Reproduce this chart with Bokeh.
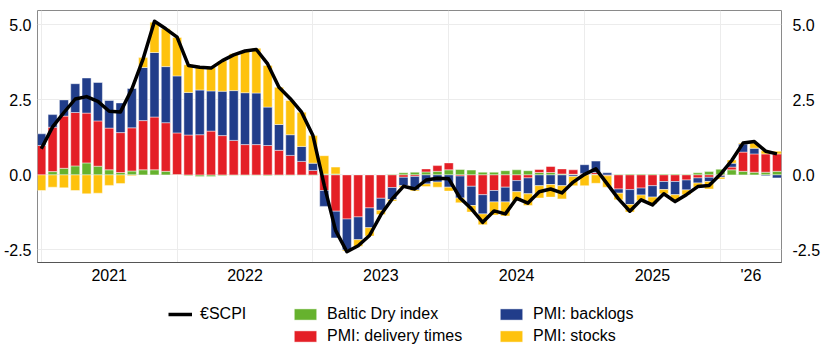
import numpy as np
from bokeh.plotting import figure
from bokeh.layouts import column
from bokeh.models import (Range1d, LinearAxis, FixedTicker, NumeralTickFormatter,
                          Legend, LegendItem, ColumnDataSource)
from bokeh.embed import file_html
from bokeh.resources import INLINE

# Monthly observations, Jan 2021 (index 0) onwards
months = list(range(66))
baltic = [0.00, 0.11, 0.22, 0.30, 0.40, 0.29, 0.17, 0.08, 0.13, 0.17, 0.17, 0.12,
          0.01, -0.03, -0.05, -0.05, -0.03, -0.02, -0.02, -0.02, -0.03, -0.02, -0.02, -0.01,
          -0.02, 0.03, 0.03, 0.00, 0.00, 0.00, 0.00, 0.02, 0.07, 0.09, 0.10, 0.12,
          0.17, 0.18, 0.16, 0.09, 0.09, 0.14, 0.17, 0.14, 0.08, 0.08, 0.03, 0.02,
          0.01, 0.02, 0.00, 0.02, 0.03, 0.03, 0.03, 0.03, 0.03, 0.02, 0.07, 0.11,
          0.19, 0.17, 0.12, 0.09, 0.09, 0.12]
delivery = [0.98, 1.48, 1.74, 1.78, 1.66, 1.51, 1.39, 1.33, 1.44, 1.64, 1.76, 1.62,
            1.39, 1.33, 1.34, 1.46, 1.31, 1.15, 1.01, 1.01, 0.98, 0.82, 0.65, 0.45,
            0.15, -0.52, -1.21, -1.47, -1.40, -1.10, -0.78, -0.42, -0.08, -0.05, 0.10, 0.19,
            0.23, -0.04, -0.38, -0.66, -0.52, -0.41, -0.19, -0.10, 0.10, 0.20, 0.17, 0.15,
            0.04, 0.06, -0.03, -0.47, -0.49, -0.44, -0.36, -0.22, -0.22, -0.17, -0.10, -0.08,
            -0.03, 0.09, 0.64, 0.61, 0.61, 0.58]
backlogs = [0.39, 0.42, 0.54, 0.96, 1.17, 1.28, 0.92, 0.99, 1.31, 1.77, 2.15, 1.87,
            1.90, 1.42, 1.49, 1.34, 1.48, 1.66, 1.73, 1.72, 1.28, 0.86, 0.69, 0.50,
            0.24, -0.53, -0.89, -1.03, -0.76, -0.66, -0.40, -0.40, -0.28, -0.45, -0.30, -0.24,
            -0.41, -0.73, -0.64, -0.64, -0.38, -0.49, -0.37, -0.53, -0.36, -0.32, -0.36, -0.05,
            0.29, 0.38, 0.07, -0.14, -0.50, -0.23, -0.38, -0.27, -0.44, -0.33, -0.17, -0.14,
            -0.05, 0.13, 0.27, 0.19, -0.03, -0.10]
stocks = [-0.52, -0.41, -0.43, -0.52, -0.63, -0.61, -0.35, -0.29, -0.03, 0.33, 1.01, 1.26,
          1.28, 0.92, 0.79, 0.79, 1.01, 1.23, 1.38, 1.49, 1.39, 1.24, 1.14, 1.14,
          0.92, 0.61, 0.23, -0.04, -0.22, -0.28, -0.14, -0.05, -0.05, -0.04, -0.09, -0.17,
          -0.13, -0.16, -0.22, -0.36, -0.44, -0.47, -0.30, -0.39, -0.41, -0.42, -0.44, -0.31,
          -0.36, -0.28, -0.38, -0.22, -0.25, -0.19, -0.23, -0.14, -0.22, -0.16, -0.14, -0.25,
          -0.06, 0.11, 0.03, 0.17, 0.11, 0.09]
scpi = [0.87, 1.60, 2.08, 2.53, 2.61, 2.45, 2.12, 2.10, 2.86, 3.87, 5.12, 4.87,
        4.59, 3.65, 3.59, 3.56, 3.81, 4.00, 4.13, 4.18, 3.70, 2.92, 2.54, 2.09,
        1.31, -0.35, -1.85, -2.56, -2.36, -2.02, -1.33, -0.80, -0.38, -0.47, -0.17, -0.11,
        -0.13, -0.77, -1.13, -1.58, -1.20, -1.30, -0.78, -0.94, -0.56, -0.47, -0.60, -0.24,
        0.02, 0.20, -0.30, -0.80, -1.21, -0.83, -1.00, -0.63, -0.89, -0.66, -0.39, -0.35,
        0.02, 0.48, 1.06, 1.11, 0.79, 0.70]

line_name = "€SCPI"
series_names = ["Baltic Dry index", "PMI: delivery times", "PMI: backlogs", "PMI: stocks"]
series_vals = [baltic, delivery, backlogs, stocks]
series_colors = ["#66B22E", "#E41F26", "#213D8A", "#FEC20D"]

year_labels = ["2021", "2022", "2023", "2024", "2025", "'26"]
y_ticks = [-2.5, 0.0, 2.5, 5.0]

FONT = "Liberation Sans"
X0, X1 = -0.335, 65.4
p = figure(width=825, height=290, output_backend="svg", toolbar_location=None,
           x_range=Range1d(X0, X1), y_range=Range1d(-2.92, 5.48),
           min_border_left=35, min_border_right=44, min_border_top=10,
           min_border_bottom=28)
p.outline_line_color = "#8a8a8a"
p.outline_line_width = 1

# stacked bars: positives stack upward, negatives downward
pos = np.zeros(len(months))
neg = np.zeros(len(months))
for name, vals, col in zip(series_names, series_vals, series_colors):
    v = np.array(vals, dtype=float)
    bottom = np.where(v >= 0, pos, neg + v)
    top = np.where(v >= 0, pos + v, neg)
    pos = np.where(v >= 0, pos + v, pos)
    neg = np.where(v < 0, neg + v, neg)
    src = ColumnDataSource(dict(x=months, bottom=bottom, top=top))
    p.vbar(x="x", bottom="bottom", top="top", width=0.8, source=src,
           fill_color=col, line_color="white", line_alpha=0.45, line_width=1)

p.line(months, scpi, line_color="black", line_width=3.5, line_join="round")

# grid
p.xgrid.ticker = FixedTicker(ticks=[12 * k for k in range(6)])
p.xgrid.grid_line_color = "#ececec"
p.ygrid.ticker = FixedTicker(ticks=y_ticks)
p.ygrid.grid_line_color = "#ececec"

# x axis
xa = p.xaxis[0]
label_pos = [6 + 12 * k for k in range(5)] + [round((60 + X1) / 2, 1)]
xa.ticker = FixedTicker(ticks=label_pos)
xa.major_label_overrides = {t: l for t, l in zip(label_pos, year_labels)}
xa.major_tick_line_color = None
xa.minor_tick_line_color = None
xa.major_tick_out = 0
xa.major_label_standoff = 4
xa.axis_line_color = "#555555"
xa.major_label_text_font = FONT
xa.major_label_text_font_size = "16px"
xa.major_label_text_color = "black"

# y axes
ya = p.yaxis[0]
yr = LinearAxis()
p.add_layout(yr, "right")
for ax, st in ((ya, 6), (yr, 11)):
    ax.ticker = FixedTicker(ticks=y_ticks)
    ax.formatter = NumeralTickFormatter(format="0.0")
    ax.major_tick_line_color = None
    ax.minor_tick_line_color = None
    ax.major_tick_out = 0
    ax.major_label_standoff = st
    ax.axis_line_color = None
    ax.major_label_text_font = FONT
    ax.major_label_text_font_size = "16px"
    ax.major_label_text_color = "black"

# legend strip below the chart (frame aligned with the chart frame)
lf = figure(width=825, height=64, output_backend="svg", toolbar_location=None,
            x_range=Range1d(0, 746), y_range=Range1d(0, 64),
            x_axis_type=None, y_axis_type=None,
            min_border_left=35, min_border_right=44, min_border_top=0,
            min_border_bottom=0)
lf.outline_line_color = None
lf.xgrid.visible = False
lf.ygrid.visible = False
lr = lf.line(x=[-100, -90], y=[-100, -100], line_color="black", line_width=3.5)
bars = {}
for name, col in zip(series_names, series_colors):
    bars[name] = lf.vbar(x=[-100], top=[-100], bottom=[-101], width=1, fill_color=col,
                         line_color="white", line_alpha=0.45, line_width=1)

def make_legend(items, x, y, gw):
    lg = Legend(items=items, location=(x, y), orientation="vertical",
                glyph_width=gw, glyph_height=14, label_height=20, spacing=2,
                label_standoff=8, padding=0, margin=0,
                border_line_color=None, background_fill_alpha=0,
                label_text_font=FONT, label_text_font_size="16px",
                label_text_color="black")
    lf.add_layout(lg, "center")

make_legend([LegendItem(label=line_name, renderers=[lr])], 131, 30, 24)
make_legend([LegendItem(label=series_names[0], renderers=[bars[series_names[0]]]),
             LegendItem(label=series_names[1], renderers=[bars[series_names[1]]])],
            254, 8, 28)
make_legend([LegendItem(label=series_names[2], renderers=[bars[series_names[2]]]),
             LegendItem(label=series_names[3], renderers=[bars[series_names[3]]])],
            460, 8, 28)

layout = column(p, lf, spacing=0)
open("out.html", "w").write(file_html(layout, INLINE))
